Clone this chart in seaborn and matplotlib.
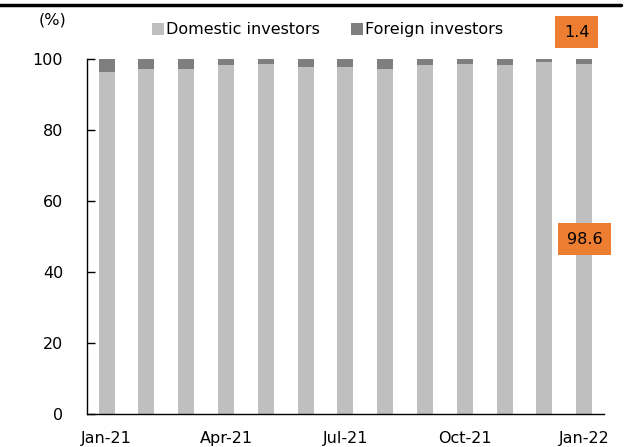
import numpy as np
import pandas as pd
import matplotlib
matplotlib.use("Agg")
import matplotlib.pyplot as plt
from matplotlib.lines import Line2D
import seaborn as sns

# values (%)
months = ["Jan-21", "Feb-21", "Mar-21", "Apr-21", "May-21", "Jun-21", "Jul-21",
          "Aug-21", "Sep-21", "Oct-21", "Nov-21", "Dec-21", "Jan-22"]
domestic = [96.3, 97.2, 97.3, 98.3, 98.6, 97.7, 97.7, 97.3, 98.4, 98.6, 98.4, 99.2, 98.6]
foreign = [3.7, 2.8, 2.7, 1.7, 1.4, 2.3, 2.3, 2.7, 1.6, 1.4, 1.6, 0.8, 1.4]
shown_labels = ["Jan-21", "Apr-21", "Jul-21", "Oct-21", "Jan-22"]
last_domestic = "98.6"
last_foreign = "1.4"

df = pd.DataFrame({"month": months, "domestic": domestic, "foreign": foreign})
df["total"] = df["domestic"] + df["foreign"]

sns.set_style("white")
plt.rcParams["font.family"] = ["DejaVu Sans"]
plt.rcParams["font.size"] = 11.5
plt.rcParams["text.color"] = "black"
plt.rcParams["xtick.color"] = "black"
plt.rcParams["ytick.color"] = "black"
plt.rcParams["xtick.labelcolor"] = "black"
plt.rcParams["ytick.labelcolor"] = "black"

fig = plt.figure(figsize=(6.4, 4.47), dpi=100)
ax = fig.add_axes([0.1355, 0.0738, 0.8085, 0.7942])

sns.barplot(data=df, x="month", y="total", color="#7F7F7F", width=0.4,
            saturation=1, label="Foreign investors", linewidth=0, ax=ax)
sns.barplot(data=df, x="month", y="domestic", color="#BFBFBF", width=0.4,
            saturation=1, label="Domestic investors", linewidth=0, ax=ax)

ax.set_xlim(-0.5, len(months) - 0.5)
ax.set_ylim(0, 100)
ax.set_yticks(np.arange(0, 101, 20))
ax.set_xlabel("")
ax.set_ylabel("")

pos = [months.index(m) for m in shown_labels]
ax.set_xticks(pos)
ax.set_xticklabels(shown_labels)
ax.set_xticks(np.arange(-0.5, len(months)), minor=True)
ax.tick_params(axis="x", which="major", length=0, pad=12, labelsize=11.5)
ax.tick_params(axis="x", which="minor", direction="in", length=4, width=1, color="black")
ax.tick_params(axis="y", direction="in", length=6, width=1, color="black", pad=17,
               left=True, labelsize=11.5)

for s in ["top", "right"]:
    ax.spines[s].set_visible(False)
for s in ["left", "bottom"]:
    ax.spines[s].set_color("black")
    ax.spines[s].set_linewidth(1)

handles, labels = ax.get_legend_handles_labels()
order = [labels.index("Domestic investors"), labels.index("Foreign investors")]
if ax.get_legend():
    ax.get_legend().remove()
fig.legend([handles[i] for i in order], [labels[i] for i in order],
           loc="center left", bbox_to_anchor=(0.215, 0.933), ncol=2, frameon=False,
           handlelength=0.75, handleheight=0.75, handletextpad=0.15,
           columnspacing=1.9, fontsize=11.5)

fig.text(0.06, 0.955, "(%)", ha="left", va="center", fontsize=11.5)

box = dict(boxstyle="square,pad=0.55", facecolor="#ED7D31", edgecolor="none")
fig.text(0.901, 0.928, last_foreign, ha="center", va="center", fontsize=11.5, bbox=box)
fig.text(0.913, 0.465, last_domestic, ha="center", va="center", fontsize=11.5, bbox=box)

fig.add_artist(Line2D([0, 0.97], [0.989, 0.989], color="black", linewidth=2.5,
                      transform=fig.transFigure))

fig.savefig("out.png", dpi=100)
